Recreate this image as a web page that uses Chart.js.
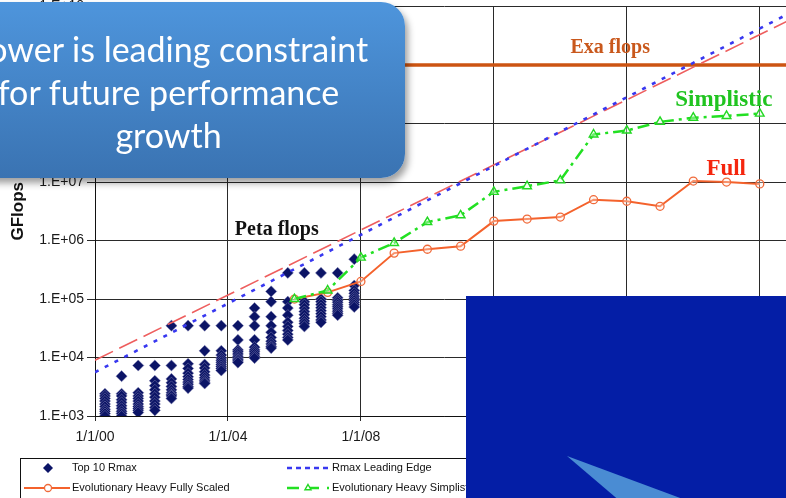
<!DOCTYPE html>
<html>
<head>
<meta charset="utf-8">
<script src="https://cdn.jsdelivr.net/npm/chart.js@4.4.1/dist/chart.umd.min.js"></script>
<style>
  html, body { margin: 0; padding: 0; background: #fff; overflow: hidden; }
  #stage { position: relative; width: 786px; height: 498px; overflow: hidden; background: #fff; }
  #c { position: absolute; left: 0; top: 0; }
  .callout {
    position: absolute; left: -40px; top: 2px; width: 445px; height: 176px;
    border-radius: 24px;
    background: linear-gradient(#4e95dc, #3a73b2);
    box-shadow: 3px 5px 7px rgba(0, 0, 0, 0.38);
  }
  .callout .txt {
    position: absolute; left: 0; right: 28px; top: 25px;
    text-align: center; color: #fff;
    font-family: Lato, "Open Sans", sans-serif; font-size: 34px; line-height: 43px;
  }
  .panel { position: absolute; left: 466px; top: 296px; width: 340px; height: 220px; background: #041ea6; }
  .panel svg { position: absolute; left: 0; top: 0; }
</style>
</head>
<body>
<div id="stage">
  <canvas id="c" width="800" height="498"></canvas>
  <div class="callout"><div class="txt">Power is leading constraint<br>for future performance<br>growth</div></div>
  <div class="panel">
    <svg width="340" height="220"><polygon points="101,160 155,206 225,206" fill="#4a8cd3"/></svg>
  </div>
</div>
<script>
// TOP500 list dates (decimal years) and the ten best Rmax values of each list, GFlops
const listDates = [2000.3, 2000.8, 2001.3, 2001.8, 2002.3, 2002.8, 2003.3, 2003.8,
                   2004.3, 2004.8, 2005.3, 2005.8, 2006.3, 2006.8, 2007.3, 2007.8];
const top10Rmax = [
  [2400, 2200, 2000, 1800, 1600, 1450, 1300, 1200, 1100, 1000],
  [4800, 2400, 2200, 1900, 1700, 1500, 1350, 1200, 1100, 1000],
  [7300, 2500, 2200, 2000, 1800, 1600, 1450, 1350, 1250, 1150],
  [7300, 4000, 3300, 2800, 2400, 2100, 1800, 1600, 1400, 1250],
  [35000, 7300, 4300, 3700, 3200, 2800, 2500, 2300, 2200, 2000],
  [35000, 7800, 6500, 5400, 4700, 4200, 3800, 3500, 3200, 3000],
  [35000, 13000, 7600, 6600, 5700, 5000, 4500, 4100, 3800, 3600],
  [35000, 13000, 11000, 9800, 9000, 8300, 7600, 7000, 6500, 6000],
  [35000, 20000, 13500, 12500, 11500, 10500, 9800, 9200, 8700, 8200],
  [70000, 50000, 35000, 20000, 15000, 13500, 12500, 11500, 10500, 9800],
  [135000, 90000, 50000, 35000, 27000, 22000, 19000, 17000, 15500, 14500],
  [280000, 90000, 70000, 53000, 40000, 34000, 29000, 25000, 22000, 20000],
  [280000, 90000, 80000, 70000, 61000, 54000, 47000, 42000, 38000, 34000],
  [280000, 100000, 90000, 80000, 71000, 63000, 56000, 50000, 44000, 40000],
  [280000, 105000, 95000, 88000, 80000, 74000, 68000, 62000, 57000, 53000],
  [480000, 170000, 140000, 125000, 112000, 103000, 95000, 87000, 80000, 73000]
];

// Projections, one value per year
const projYears   = [2006, 2007, 2008, 2009, 2010, 2011, 2012, 2013, 2014, 2015, 2016, 2017, 2018, 2019, 2020];
const fullyScaled = [1.0e5, 1.3e5, 2.0e5, 6.1e5, 7.1e5, 8.0e5, 2.15e6, 2.33e6, 2.52e6, 5.0e6, 4.7e6, 3.85e6, 1.04e7, 1.0e7, 9.3e6];
const simplistic  = [1.0e5, 1.4e5, 5.1e5, 9.1e5, 2.07e6, 2.7e6, 6.8e6, 8.5e6, 1.07e7, 6.5e7, 7.6e7, 1.07e8, 1.26e8, 1.35e8, 1.48e8];

// Leading-edge trend lines (end points) and the exaflop level
const edgeYears = [2000, 2021];
const rmaxEdge  = [5.6e3, 8.3e9];
const peakEdge  = [9.0e3, 6.3e9];
const exaYears  = [2000, 2021];
const exaLevel  = [1e9, 1e9];

// Axis ticks
const xTickYears  = [2000, 2004, 2008, 2012, 2016, 2020];
const yTickValues = [1e3, 1e4, 1e5, 1e6, 1e7, 1e8, 1e9, 1e10];

const pts = (xs, ys) => xs.map((x, i) => ({ x: x, y: ys[i] }));
const rmaxPoints = [];
listDates.forEach((d, i) => top10Rmax[i].forEach(v => rmaxPoints.push({ x: d, y: v })));

const SANS = '"Liberation Sans", Arial, sans-serif';
const SERIF = '"Liberation Serif", "Times New Roman", serif';

const datasets = [
  { label: 'Top 10 Rmax', data: rmaxPoints, showLine: false, order: 6,
    pointStyle: 'rectRot', pointRadius: 5.6, backgroundColor: '#0b1466',
    borderColor: 'rgba(130,130,180,0.5)', pointBorderWidth: 1 },
  { label: 'Rmax Leading Edge', data: pts(edgeYears, rmaxEdge), order: 3,
    borderColor: '#3838f0', borderWidth: 2.6, borderDash: [4, 7], pointRadius: 0 },
  { label: 'Evolutionary Heavy Fully Scaled', data: pts(projYears, fullyScaled), order: 2,
    borderColor: '#f4622c', borderWidth: 2, pointStyle: 'circle', pointRadius: 4,
    pointBorderWidth: 1.3, pointBorderColor: '#f06a3a', pointBackgroundColor: 'rgba(255,235,225,0.35)' },
  { label: 'Evolutionary Heavy Simplistic', data: pts(projYears, simplistic), order: 1,
    borderColor: '#22e022', borderWidth: 2.5, borderDash: [12, 5, 3, 5], pointStyle: 'triangle',
    pointRadius: 5, pointBorderWidth: 1.4, pointBorderColor: '#22d822', pointBackgroundColor: 'rgba(220,255,220,0.4)' },
  { label: 'Peak Leading Edge', data: pts(edgeYears, peakEdge), order: 4,
    borderColor: '#ee5e5e', borderWidth: 1.6, borderDash: [20, 7], pointRadius: 0 },
  { label: 'Exa flops', data: pts(exaYears, exaLevel), order: 5,
    borderColor: '#cc5412', borderWidth: 3.5, pointRadius: 0 }
];

// Text labels placed in data coordinates
const notes = [
  { text: 'Exa flops',  x: 2015.5,  y: 1.6e9,  color: '#c9581c', size: 20 },
  { text: 'Peta flops', x: 2005.47, y: 1.23e6, color: '#111111', size: 20 },
  { text: 'Simplistic', x: 2018.92, y: 1.96e8, color: '#20c420', size: 23 },
  { text: 'Full',       x: 2018.99, y: 1.3e7,  color: '#f5260e', size: 23 }
];

const notePlugin = {
  id: 'notes',
  afterDatasetsDraw(chart) {
    const { ctx, scales: { x, y } } = chart;
    ctx.save();
    ctx.textAlign = 'center';
    ctx.textBaseline = 'alphabetic';
    notes.forEach(n => {
      ctx.font = 'bold ' + n.size + 'px ' + SERIF;
      ctx.fillStyle = n.color;
      ctx.fillText(n.text, x.getPixelForValue(n.x), y.getPixelForValue(n.y));
    });
    ctx.restore();
  }
};

// Boxed legend under the plot, two entries per row
const legendSlots = [
  { ds: 0, x0: 26,  x1: 70,  mark: 48,  text: 72,  y: 468 },
  { ds: 1, x0: 287, x1: 329, mark: 308, text: 332, y: 468 },
  { ds: 2, x0: 24,  x1: 70,  mark: 48,  text: 72,  y: 488 },
  { ds: 3, x0: 287, x1: 329, mark: 308, text: 332, y: 488 }
];

const legendPlugin = {
  id: 'boxLegend',
  afterDraw(chart) {
    const ctx = chart.ctx;
    ctx.save();
    ctx.strokeStyle = '#111';
    ctx.lineWidth = 1;
    ctx.strokeRect(20.5, 458.5, 800, 60);
    ctx.font = '11px ' + SANS;
    ctx.textBaseline = 'middle';
    legendSlots.forEach(s => {
      const d = chart.data.datasets[s.ds];
      if (d.showLine !== false) {
        ctx.save();
        ctx.strokeStyle = d.borderColor;
        ctx.lineWidth = Math.min(d.borderWidth, 2.5);
        ctx.setLineDash(d.borderDash ? (d.borderDash.length === 2 && d.borderDash[0] < 6 ? [5, 4] : [12, 8]) : []);
        ctx.beginPath();
        ctx.moveTo(s.x0, s.y); ctx.lineTo(s.x1, s.y);
        ctx.stroke();
        ctx.restore();
      }
      if (d.pointRadius) {
        ctx.save();
        ctx.fillStyle = d.pointStyle === 'rectRot' ? d.backgroundColor : '#fff';
        ctx.strokeStyle = d.pointBorderColor || d.borderColor;
        ctx.lineWidth = d.pointBorderWidth || 1;
        Chart.helpers.drawPoint(ctx, {
          pointStyle: d.pointStyle, radius: d.pointStyle === 'rectRot' ? 5 : 3.5,
          borderWidth: d.pointBorderWidth || 1, rotation: 0
        }, s.mark, s.y);
        ctx.restore();
      }
      ctx.fillStyle = '#111';
      ctx.fillText(d.label, s.text, s.y);
    });
    ctx.restore();
  }
};

new Chart(document.getElementById('c'), {
  type: 'line',
  data: { datasets: datasets },
  options: {
    responsive: false,
    animation: false,
    devicePixelRatio: 1,
    layout: { padding: { left: 0, top: 6, right: 7, bottom: 42 } },
    plugins: { legend: { display: false }, tooltip: { enabled: false } },
    elements: { line: { tension: 0 } },
    scales: {
      x: {
        type: 'linear', min: 2000, max: 2021,
        afterBuildTicks: s => { s.ticks = xTickYears.map(v => ({ value: v })); },
        afterFit: s => { s.height = 40; s.paddingLeft = 0; s.paddingRight = 0; },
        ticks: {
          autoSkip: false, maxRotation: 0, padding: 8, color: '#1a1a1a',
          font: { family: SANS, size: 14 },
          callback: v => '1/1/' + String(v % 100).padStart(2, '0')
        },
        grid: { color: '#2a2a2a', lineWidth: 1, tickLength: 5 },
        border: { color: '#111', width: 1 }
      },
      y: {
        type: 'logarithmic', min: 1e3, max: 1e10,
        afterBuildTicks: s => { s.ticks = yTickValues.map(v => ({ value: v })); },
        afterFit: s => { s.width = 95; s.paddingTop = 0; s.paddingBottom = 0; },
        ticks: {
          padding: 3, color: '#1a1a1a',
          font: { family: SANS, size: 14 },
          callback: v => '1.E+' + String(Math.round(Math.log10(v))).padStart(2, '0')
        },
        grid: { color: '#2a2a2a', lineWidth: 1, tickLength: 8 },
        border: { color: '#111', width: 1 },
        title: {
          display: true, text: 'GFlops', color: '#111',
          font: { family: SANS, size: 17, weight: 'bold' },
          padding: { top: 8, bottom: 0 }
        }
      }
    }
  },
  plugins: [notePlugin, legendPlugin]
});
</script>
</body>
</html>
